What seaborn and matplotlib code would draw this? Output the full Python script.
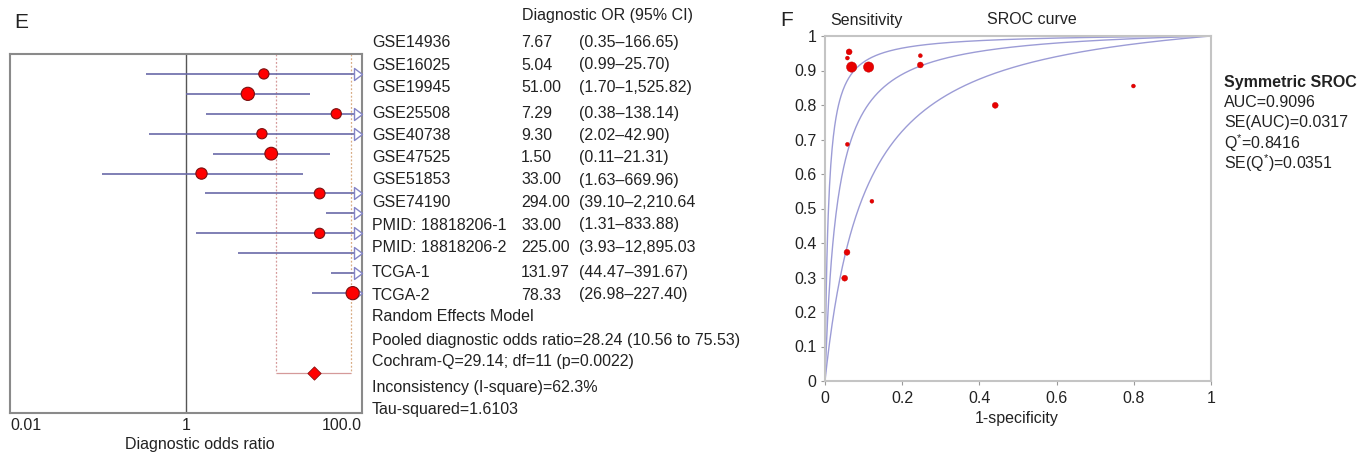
import numpy as np
import pandas as pd
import matplotlib
matplotlib.use("Agg")
import matplotlib.pyplot as plt
from matplotlib.path import Path
import seaborn as sns

# ---------------- data ----------------
studies = ["GSE14936", "GSE16025", "GSE19945", "GSE25508", "GSE40738", "GSE47525",
           "GSE51853", "GSE74190", "PMID: 18818206-1", "PMID: 18818206-2", "TCGA-1", "TCGA-2"]
dor = [7.67, 5.04, 51.00, 7.29, 9.30, 1.50, 33.00, 294.00, 33.00, 225.00, 131.97, 78.33]
ci_low = [0.35, 0.99, 1.70, 0.38, 2.02, 0.11, 1.63, 39.10, 1.31, 3.93, 44.47, 26.98]
ci_high = [166.65, 25.70, 1525.82, 138.14, 42.90, 21.31, 669.96, 2210.64, 833.88, 12895.03, 391.67, 227.40]
dor_labels = ["7.67", "5.04", "51.00", "7.29", "9.30", "1.50", "33.00", "294.00",
              "33.00", "225.00", "131.97", "78.33"]
ci_labels = ["(0.35\u2013166.65)", "(0.99\u201325.70)", "(1.70\u20131,525.82)", "(0.38\u2013138.14)",
             "(2.02\u201342.90)", "(0.11\u201321.31)", "(1.63\u2013669.96)", "(39.10\u20132,210.64",
             "(1.31\u2013833.88)", "(3.93\u201312,895.03", "(44.47\u2013391.67)", "(26.98\u2013227.40)"]
study_weight = [5.4, 9.0, 5.4, 5.4, 8.4, 6.6, 6.0, 5.2, 5.4, 5.2, 9.2, 9.0]
pooled_dor = 28.24
pooled_low = 10.56
pooled_high = 75.53
summary_lines = ["Random Effects Model",
                 "Pooled diagnostic odds ratio=28.24 (10.56 to 75.53)",
                 "Cochram-Q=29.14; df=11 (p=0.0022)",
                 "Inconsistency (I-square)=62.3%",
                 "Tau-squared=1.6103"]

sroc_fpr = [0.0625, 0.058, 0.069, 0.113, 0.247, 0.247, 0.441, 0.058, 0.1215, 0.057, 0.051, 0.799]
sroc_sens = [0.954, 0.936, 0.910, 0.910, 0.943, 0.916, 0.799, 0.686, 0.521, 0.373, 0.298, 0.855]
sroc_weight = [2, 1, 3, 3, 1, 2, 2, 1, 1, 2, 2, 1]
curve_dor = [10.5, 32.0, 110.0]
sroc_stats = ["AUC=0.9096", "SE(AUC)=0.0317", "Q$^{*}$=0.8416", "SE(Q$^{*}$)=0.0351"]

# ---------------- style ----------------
sns.set_theme(style="white")
plt.rcParams["font.family"] = ["Liberation Sans", "DejaVu Sans"]
plt.rcParams["mathtext.fontset"] = "custom"
plt.rcParams["mathtext.rm"] = "Liberation Sans"
plt.rcParams["mathtext.it"] = "Liberation Sans"
TXT = "#222222"
FS = 11.5

W, H = 1367, 458
fig = plt.figure(figsize=(W / 100, H / 100), dpi=100)
fig.patch.set_facecolor("white")


def ftext(x, y, s, **kw):
    kw.setdefault("fontsize", FS)
    kw.setdefault("color", TXT)
    fig.text(x / W, 1 - y / H, s, va="center", **kw)


# ---------------- forest plot ----------------
axf = fig.add_axes([10 / W, (H - 412.7) / H, 352 / W, 358.7 / H])
axf.set_xscale("log")
XMIN, XMAX = 0.01, 100.0
axf.set_xlim(XMIN, XMAX)
axf.set_ylim(17, -1)

df = pd.DataFrame({"study": studies, "dor": dor, "lo": ci_low, "hi": ci_high,
                   "w": study_weight})
df["row"] = np.arange(len(df))
df["s"] = df["w"] * 10.0

axf.axvline(1, color="#555555", lw=1.0, zorder=1)
axf.vlines([pooled_low], -1, 15, colors="#d59a9a", linestyles=(0, (1.5, 1.5)), lw=0.9, zorder=1)
axf.vlines([pooled_high], -1, 15, colors="#d8ac84", linestyles=(0, (1.5, 1.5)), lw=0.9, zorder=1)
axf.hlines(15, pooled_low, pooled_high, colors="#d59a9a", lw=0.9, zorder=1)

axf.hlines(df["row"], df["lo"], np.minimum(df["hi"], XMAX), colors="#6a6aa8", lw=1.2, zorder=2)

arrow = Path([(0, 0), (-1, 0.75), (-1, -0.75), (0, 0)],
             [Path.MOVETO, Path.LINETO, Path.LINETO, Path.CLOSEPOLY])
over = df[df["hi"] > XMAX]
axf.plot(np.full(len(over), XMAX), over["row"], ls="none", marker=arrow, ms=11.5,
         mfc="white", mec="#8484c6", mew=1.0, clip_on=False, zorder=3)

smin, smax = df["s"].min(), df["s"].max()
sns.scatterplot(data=df, x="dor", y="row", size="s", sizes=(smin, smax), size_norm=(smin, smax),
                color="#ff0000", edgecolor="#7a1010", linewidth=0.8, legend=False, ax=axf, zorder=4)
sns.scatterplot(x=[pooled_dor], y=[15], marker="D", s=46, color="#ff0000",
                edgecolor="#8a1010", linewidth=0.6, legend=False, ax=axf, zorder=4)

axf.set_xticks([0.01, 1, 100])
axf.set_xticklabels(["0.01", "1", "100.0"])
axf.xaxis.set_minor_locator(matplotlib.ticker.NullLocator())
axf.set_yticks([])
axf.tick_params(axis="x", length=0, pad=4, labelsize=FS, labelcolor=TXT)
labs = axf.get_xticklabels()
labs[0].set_horizontalalignment("left")
labs[2].set_horizontalalignment("right")
axf.set_xlabel("")
axf.set_ylabel("")
for sp in axf.spines.values():
    sp.set_color("#8a8a8a")
    sp.set_linewidth(1.5)
    sp.set_visible(True)

ftext(14, 22, "E", fontsize=15)
ftext(200, 445, "Diagnostic odds ratio", ha="center")

# ---------------- table text ----------------
row_y = [42.7, 65, 87.3, 113.3, 135.7, 157.3, 180, 202.3, 225, 247.3, 272.7, 295]
ftext(522, 15.7, "Diagnostic OR (95% CI)")
for i in range(len(studies)):
    ftext(372, row_y[i], studies[i])
    ftext(521, row_y[i], dor_labels[i])
    ftext(579, row_y[i], ci_labels[i])
for y, s in zip([316.7, 340, 361.7, 387.3, 409.3], summary_lines):
    ftext(372, y, s)

# ---------------- SROC plot ----------------
axs = fig.add_axes([825 / W, (H - 381) / H, 386 / W, 345 / H])
axs.set_xlim(0, 1)
axs.set_ylim(0, 1)

grid = np.linspace(0, 1, 600)
curves = []
for d in curve_dor:
    sens = d * grid / ((1 - grid) + d * grid)
    curves.append(pd.DataFrame({"fpr": grid, "sens": sens, "dor": d}))
cdf = pd.concat(curves)
sns.lineplot(data=cdf, x="fpr", y="sens", units="dor", estimator=None, color="#9c9cd6",
             lw=1.0, sort=False, ax=axs, zorder=2)

sdf = pd.DataFrame({"fpr": sroc_fpr, "sens": sroc_sens, "w": sroc_weight})
sns.scatterplot(data=sdf, x="fpr", y="sens", size="w", sizes={1: 8, 2: 18, 3: 55},
                color="#e80000", edgecolor="#c00000", linewidth=0.3, legend=False,
                ax=axs, zorder=3)

axs.set_xticks(np.round(np.arange(0, 1.01, 0.2), 1))
axs.set_xticklabels(["0", "0.2", "0.4", "0.6", "0.8", "1"])
axs.set_yticks(np.round(np.arange(0, 1.01, 0.1), 1))
axs.set_yticklabels(["0"] + [f"{v:.1f}" for v in np.arange(0.1, 0.95, 0.1)] + ["1"])
axs.tick_params(axis="both", direction="out", length=3, width=0.8, color="#9a9a9a",
                labelsize=FS, labelcolor=TXT, left=True, bottom=True)
axs.tick_params(axis="y", pad=3)
axs.tick_params(axis="x", pad=4)
axs.set_xlabel("")
axs.set_ylabel("")
for sp in axs.spines.values():
    sp.set_color("#c4c4c4")
    sp.set_linewidth(1.5)
    sp.set_visible(True)

ftext(780, 20, "F", fontsize=15)
ftext(830, 20, "Sensitivity")
ftext(987, 20, "SROC curve")
ftext(1017, 418, "1-specificity", ha="center")
ftext(1224, 82, "Symmetric SROC", fontweight="bold")
for y, s in zip([102.7, 122.7, 142.7, 162.7], sroc_stats):
    ftext(1224, y, s)

fig.savefig("out.png", dpi=100, facecolor="white")
